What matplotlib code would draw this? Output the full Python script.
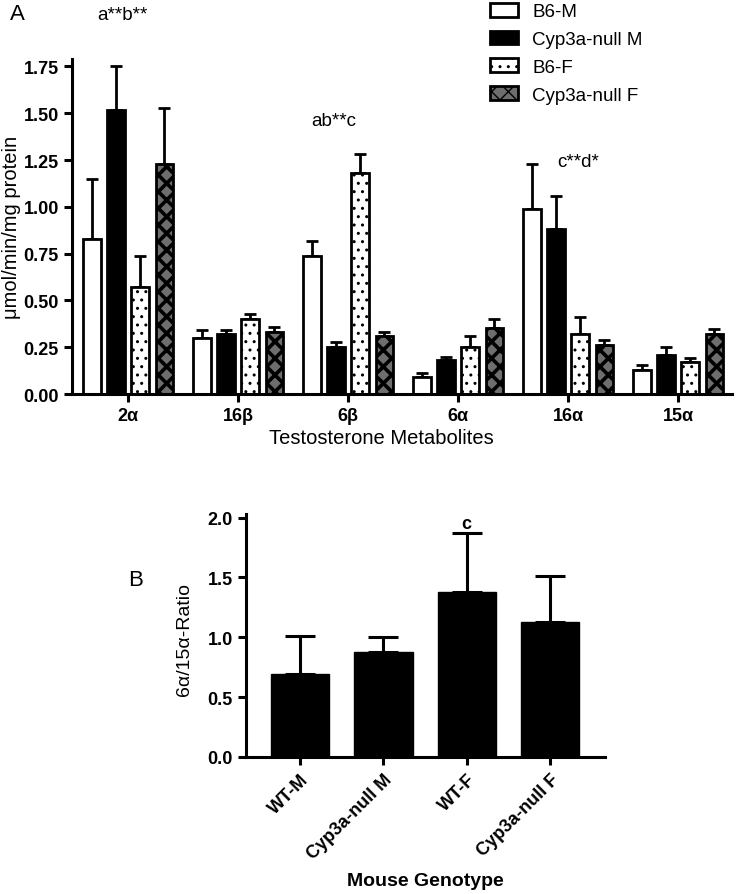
import matplotlib
matplotlib.use("Agg")
import matplotlib.pyplot as plt
import numpy as np

plt.rcParams['font.family'] = ['Liberation Sans', 'DejaVu Sans']

# ---- Panel A data ----
metabolites = ['2α', '16β', '6β', '6α', '16α', '15α']
groups = ['B6-M', 'Cyp3a-null M', 'B6-F', 'Cyp3a-null F']
b6_m = [0.83, 0.30, 0.74, 0.09, 0.99, 0.13]
b6_m_err = [0.32, 0.04, 0.08, 0.02, 0.24, 0.025]
cyp_m = [1.52, 0.32, 0.25, 0.18, 0.88, 0.21]
cyp_m_err = [0.23, 0.02, 0.03, 0.02, 0.18, 0.04]
b6_f = [0.57, 0.40, 1.18, 0.25, 0.32, 0.17]
b6_f_err = [0.17, 0.03, 0.10, 0.06, 0.09, 0.025]
cyp_f = [1.23, 0.33, 0.31, 0.35, 0.26, 0.32]
cyp_f_err = [0.30, 0.03, 0.02, 0.05, 0.03, 0.025]
annot_a = ['a**b**', 'ab**c', 'c**d*']
annot_a_x = [-0.05, 1.87, 4.09]
annot_a_y = [2.03, 1.46, 1.24]

# ---- Panel B data ----
genotypes = ['WT-M', 'Cyp3a-null M', 'WT-F', 'Cyp3a-null F']
ratio = [0.69, 0.88, 1.38, 1.13]
ratio_err = [0.32, 0.12, 0.49, 0.38]

fig = plt.figure(figsize=(7.36, 8.95), dpi=100)

# ---------------- Panel A ----------------
axA = fig.add_axes([72/736, (895-395)/895, (732-72)/736, (395-60)/895])
x = np.arange(len(metabolites))
offsets = [-0.33, -0.11, 0.11, 0.33]
width = 0.16
series = [b6_m, cyp_m, b6_f, cyp_f]
errs = [b6_m_err, cyp_m_err, b6_f_err, cyp_f_err]
faces = ['white', 'black', 'white', '#6e6e6e']
hatches = [None, None, '..', 'xx']
handles = []
for s, e, fc, h, off, lab in zip(series, errs, faces, hatches, offsets, groups):
    bars = axA.bar(x + off, s, width, color=fc, edgecolor='black', linewidth=2.0,
                   hatch=h, label=lab, zorder=2)
    if h == 'xx':
        for p in bars:
            if hasattr(p, 'set_hatch_linewidth'):
                p.set_hatch_linewidth(2.6)
    axA.errorbar(x + off, s, yerr=[np.zeros(len(s)), e], fmt='none', ecolor='black',
                 elinewidth=2.0, capsize=4, capthick=2.0, zorder=1)
    handles.append(bars)

axA.set_xlim(-0.51, 5.49)
axA.set_ylim(0, 1.79)
axA.set_yticks([0, 0.25, 0.5, 0.75, 1.0, 1.25, 1.5, 1.75])
axA.set_yticklabels(['0.00', '0.25', '0.50', '0.75', '1.00', '1.25', '1.50', '1.75'])
axA.set_xticks(x)
axA.set_xticklabels(metabolites)
for sp in ['top', 'right']:
    axA.spines[sp].set_visible(False)
for sp in ['left', 'bottom']:
    axA.spines[sp].set_linewidth(2.2)
axA.tick_params(axis='both', direction='out', length=6, width=2.2, labelsize=13)
for lbl in axA.get_xticklabels() + axA.get_yticklabels():
    lbl.set_fontweight('bold')
axA.set_ylabel('μmol/min/mg protein', fontsize=14.5)
axA.yaxis.set_label_coords(-0.077, 0.5)
axA.set_xlabel('Testosterone Metabolites', fontsize=14.5)
axA.xaxis.set_label_coords(0.468, -0.101)
for t, xx, yy in zip(annot_a, annot_a_x, annot_a_y):
    axA.text(xx, yy, t, ha='center', va='center', fontsize=13.5, clip_on=False)

fig.legend(handles=handles, labels=groups, loc='upper left',
           bbox_to_anchor=(490/736, 1 - 4/895), frameon=False, fontsize=13.5,
           handlelength=1.5, handleheight=0.75, labelspacing=0.55,
           handletextpad=0.75, borderpad=0, borderaxespad=0)

fig.text(17/736, 1 - 15/895, 'A', fontsize=16, ha='center', va='center')

# ---------------- Panel B ----------------
axB = fig.add_axes([246/736, (895-758)/895, (605-246)/736, (758-515)/895])
xb = np.arange(len(genotypes))
axB.bar(xb, ratio, 0.7, color='black', edgecolor='black', zorder=2)
axB.errorbar(xb, ratio, yerr=[np.zeros(len(ratio)), ratio_err], fmt='none',
             ecolor='black', elinewidth=2.2, capsize=10.5, capthick=2.2, zorder=1)
axB.set_xlim(-0.65, 3.66)
axB.set_ylim(0, 2.03)
axB.set_yticks([0, 0.5, 1.0, 1.5, 2.0])
axB.set_yticklabels(['0.0', '0.5', '1.0', '1.5', '2.0'])
axB.set_xticks(xb)
axB.set_xticklabels(genotypes, rotation=45, ha='right', rotation_mode='anchor')
for sp in ['top', 'right']:
    axB.spines[sp].set_visible(False)
for sp in ['left', 'bottom']:
    axB.spines[sp].set_linewidth(2.2)
axB.tick_params(axis='both', direction='out', length=6, width=2.2, labelsize=13)
for lbl in axB.get_xticklabels() + axB.get_yticklabels():
    lbl.set_fontweight('bold')
axB.set_ylabel('6α/15α-Ratio', fontsize=14)
axB.yaxis.set_label_coords(-0.148, 0.486)
axB.set_xlabel('Mouse Genotype', fontsize=14, fontweight='bold')
axB.xaxis.set_label_coords(0.5, -0.475)
axB.text(2, 1.95, 'c', ha='center', va='center', fontsize=13, fontweight='bold')
fig.text(136/736, 1 - 581/895, 'B', fontsize=16, ha='center', va='center')

fig.savefig('out.png', dpi=100)
